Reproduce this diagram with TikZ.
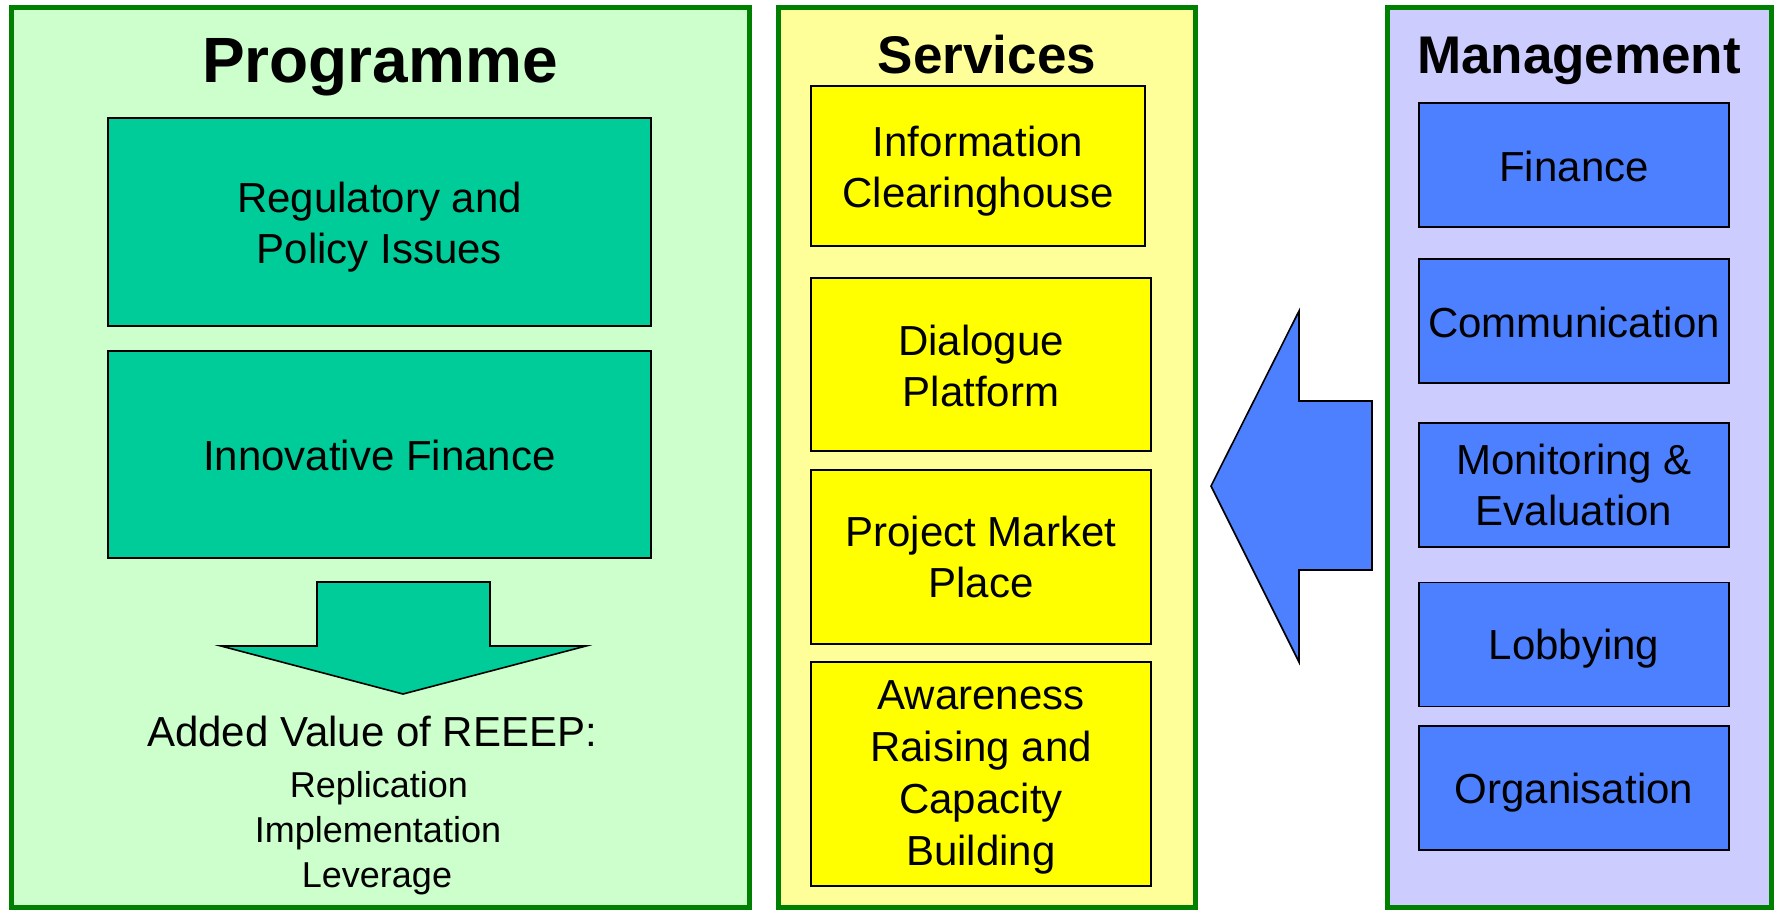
\documentclass[tikz,border=0pt]{standalone}
\usepackage{fontspec}
\setmainfont{Liberation Sans}
\definecolor{pgreen}{HTML}{CCFFCC}
\definecolor{pborder}{HTML}{008000}
\definecolor{pteal}{HTML}{00CC99}
\definecolor{sfill}{HTML}{FFFF99}
\definecolor{syellow}{HTML}{FFFF00}
\definecolor{mfill}{HTML}{CCCCFF}
\definecolor{mblue}{HTML}{4D80FF}
\tikzset{
  panel/.style={draw=pborder, line width=2.5pt, inner sep=0pt, outer sep=0pt},
  box/.style={draw=black, line width=0.8pt, inner sep=0pt, outer sep=0pt},
  boxtext/.style={inner sep=0pt, align=center, font=\fontsize{21pt}{25.5pt}\selectfont},
  title/.style={font=\bfseries, anchor=base, inner sep=0pt},
  small/.style={font=\fontsize{18pt}{23pt}\selectfont, anchor=base, inner sep=0pt},
  blockarrow/.style={draw=black, line width=0.8pt, line join=miter}
}
\begin{document}
\begin{tikzpicture}[x=0.5pt,y=-0.5pt]
\useasboundingbox (0,0) rectangle (1782,912);
% panels
\node[panel, fill=pgreen, minimum width=369pt, minimum height=450pt] (prog) at (380,457) {};
\node[panel, fill=sfill, minimum width=208.5pt, minimum height=450pt] (serv) at (986.5,457) {};
\node[panel, fill=mfill, minimum width=192pt, minimum height=450pt] (mgmt) at (1579,457) {};
% titles
\node[title, font=\fontsize{32pt}{36pt}\bfseries\selectfont] (progt) at (380,82) {Programme};
\node[title, font=\fontsize{26.5pt}{30pt}\bfseries\selectfont] (servt) at (987,73) {Services};
\node[title, font=\fontsize{26.5pt}{30pt}\bfseries\selectfont] (mgmtt) at (1579,73) {Management};
% programme boxes
\node[box, fill=pteal, minimum width=271.5pt, minimum height=104pt] (reg) at (379.5,222) {};
\node[boxtext, yshift=-2.5pt] (regt) at (reg) {Regulatory and\\Policy Issues};
\node[box, fill=pteal, minimum width=271.5pt, minimum height=103.5pt] (innov) at (379.5,454.5) {};
\node[boxtext, yshift=-0.5pt] (innovt) at (innov) {Innovative Finance};
% down arrow
\draw[blockarrow, fill=pteal] (317,582) -- (490,582) -- (490,646) -- (586,646) -- (403,694) -- (221,646) -- (317,646) -- cycle;
% added value text
\node[anchor=base, inner sep=0pt, font=\fontsize{21pt}{25pt}\selectfont] (added) at (372,746) {Added Value of REEEP:};
\node[small] (repl) at (379,797) {Replication};
\node[small] (impl) at (378,842) {Implementation};
\node[small] (lev) at (377,887) {Leverage};
% services boxes
\node[box, fill=syellow, minimum width=167pt, minimum height=80pt] (info) at (978,166) {};
\node[boxtext, yshift=-2.5pt] (infot) at (info) {Information\\Clearinghouse};
\node[box, fill=syellow, minimum width=170pt, minimum height=86.5pt] (dial) at (981,364.5) {};
\node[boxtext, yshift=-0.5pt] (dialt) at (dial) {Dialogue\\Platform};
\node[box, fill=syellow, minimum width=170pt, minimum height=87pt] (proj) at (981,557) {};
\node[boxtext] (projt) at (proj) {Project Market\\Place};
\node[box, fill=syellow, minimum width=170pt, minimum height=112pt] (aware) at (981,774) {};
\node[boxtext, font=\fontsize{21pt}{26pt}\selectfont, yshift=-1.5pt] (awaret) at (aware) {Awareness\\Raising and\\Capacity\\Building};
% left arrow
\draw[blockarrow, fill=mblue] (1211,486) -- (1299,311) -- (1299,401) -- (1372,401) -- (1372,570) -- (1299,570) -- (1299,662) -- cycle;
% management boxes
\node[box, fill=mblue, minimum width=155pt, minimum height=62pt] (fin) at (1574,165) {};
\node[boxtext, yshift=-0.5pt] (fint) at (fin) {Finance};
\node[box, fill=mblue, minimum width=155pt, minimum height=62pt] (comm) at (1574,321) {};
\node[boxtext, yshift=-0.5pt] (commt) at (comm) {Communication};
\node[box, fill=mblue, minimum width=155pt, minimum height=62pt] (mon) at (1574,485) {};
\node[boxtext] (mont) at (mon) {Monitoring \&\\Evaluation};
\node[box, fill=mblue, minimum width=155pt, minimum height=62pt] (lob) at (1574,644.5) {};
\node[boxtext, yshift=-2pt] (lobt) at (lob) {Lobbying};
\node[box, fill=mblue, minimum width=155pt, minimum height=62pt] (org) at (1574,788) {};
\node[boxtext, yshift=-2.5pt] (orgt) at (org) {Organisation};
\end{tikzpicture}
\end{document}
